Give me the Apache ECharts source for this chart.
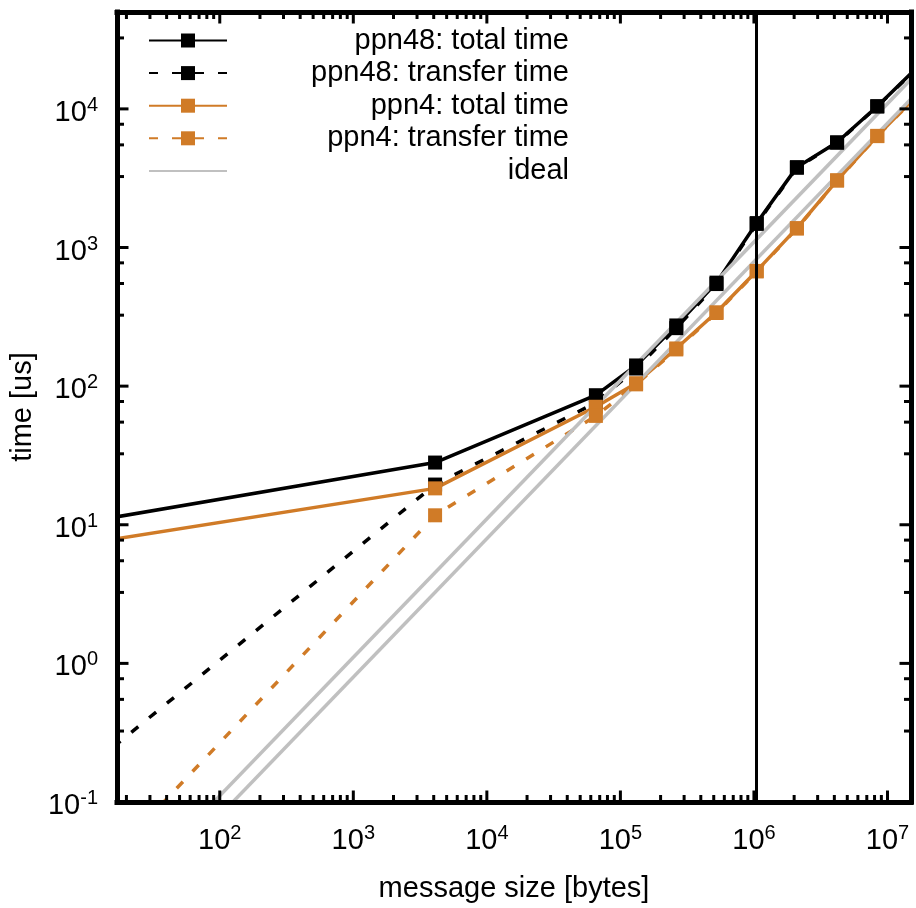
<!DOCTYPE html>
<html><head><meta charset="utf-8">
<script src="https://cdn.jsdelivr.net/npm/echarts@6/dist/echarts.min.js"></script>
<style>html,body{margin:0;padding:0;background:#fff}#c{width:916px;height:908px}</style>
</head><body><div id="c"></div>
<script>
// ---- data ----
const sizes = [16, 4096, 65536, 131072, 262144, 524288, 1048576, 2097152, 4194304, 8388608, 16777216];
const ppn48Total    = [11.3, 28.1, 86, 141, 274, 558, 1500, 3800, 5740, 10460, 20000];
const ppn48Transfer = [0.25, 19.5, 76, 134, 262, 545, 1480, 3760, 5700, 10400, 19800];
const ppn4Total     = [7.85, 18.3, 71, 105, 187, 341, 678, 1380, 3055, 6390, 12600];
const ppn4Transfer  = [0.0414, 11.7, 61, 103, 184, 337, 672, 1370, 3040, 6360, 12500];
const idealA = [[16, 0.0178], [16777216, 18300]];
const idealB = [[16, 0.0128], [16777216, 13200]];
const seriesNames = ['ppn48: total time', 'ppn48: transfer time', 'ppn4: total time', 'ppn4: transfer time', 'ideal'];
const markerSize = 1048576;
const xMin = 17, xMax = 1.5e7, yMin = 0.1, yMax = 5e4;
const xMajorTicks = [100, 1e3, 1e4, 1e5, 1e6, 1e7];
const yMajorTicks = [0.1, 1, 10, 100, 1e3, 1e4];
const xMinorSteps = [2, 3, 4, 5, 6, 7, 8, 9];
const yMinorSteps = [3.25, 5.5, 7.75];
const xDecades = [10, 100, 1e3, 1e4, 1e5, 1e6, 1e7];
const yDecades = [0.1, 1, 10, 100, 1e3, 1e4];

// ---- styles ----
const FONT = '"Liberation Sans", Arial, sans-serif';
const BLACK = '#000000', ORANGE = '#d07b27', GRAY = '#c0c0c0';
const LW = 3.5;

function minorList(decades, steps, lo, hi) {
  const out = [];
  decades.forEach(d => steps.forEach(m => { const v = d * m; if (v > lo && v < hi) out.push(v); }));
  return out;
}
const xMinorTicks = minorList(xDecades, xMinorSteps, xMin, xMax);
const yMinorTicks = minorList(yDecades, yMinorSteps, yMin, yMax);

function pairs(ys) {
  return sizes.map((s, i) => (s < xMin ? { value: [s, ys[i]], symbol: 'none' } : [s, ys[i]]));
}

function powLabel(v) {
  const e = Math.log10(v);
  const r = Math.round(e);
  if (Math.abs(e - r) > 1e-6) return '';
  return '{n|10}{s|' + r + '}';
}
const richLabel = {
  n: { fontFamily: FONT, fontSize: 29, color: BLACK, lineHeight: 32, verticalAlign: 'bottom' },
  s: { fontFamily: FONT, fontSize: 20, color: BLACK, lineHeight: 20, verticalAlign: 'top' }
};

const axisCommon = {
  type: 'log', logBase: 10,
  axisLine: { show: true, onZero: false, lineStyle: { color: BLACK, width: 5, cap: 'square' } },
  axisTick: { show: false }, minorTick: { show: false },
  splitLine: { show: false }, minorSplitLine: { show: false },
  z: 10
};

function lineSeries(name, ys, color, dashed) {
  return {
    name, type: 'line', data: pairs(ys),
    symbol: 'rect', symbolSize: 14, showAllSymbol: true, clip: true,
    lineStyle: { color, width: LW, type: dashed ? [9, 14] : 'solid' },
    itemStyle: { color },
    emphasis: { disabled: true }, silent: true
  };
}

const TICK_MAJOR = 11.5, TICK_MINOR = 7;
const xTickData = xMajorTicks.map(v => [v, yMin, 1]).concat(xMinorTicks.map(v => [v, yMin, 0]));
const yTickData = yMajorTicks.map(v => [xMin, v, 1]).concat(yMinorTicks.map(v => [xMin, v, 0]));

const series = [
  Object.assign(lineSeries(seriesNames[0], ppn48Total, BLACK, false), {
    markLine: {
      silent: true, symbol: ['none', 'none'], label: { show: false },
      lineStyle: { color: BLACK, width: 3, type: 'solid' },
      data: [{ xAxis: markerSize }]
    }
  }),
  lineSeries(seriesNames[1], ppn48Transfer, BLACK, true),
  lineSeries(seriesNames[2], ppn4Total, ORANGE, false),
  lineSeries(seriesNames[3], ppn4Transfer, ORANGE, true),
  { name: 'ideal', type: 'line', data: idealA, showSymbol: false, symbol: 'rect', clip: true,
    lineStyle: { color: GRAY, width: LW }, itemStyle: { color: GRAY }, emphasis: { disabled: true }, silent: true },
  { name: 'ideal', type: 'line', data: idealB, showSymbol: false, symbol: 'rect', clip: true,
    lineStyle: { color: GRAY, width: LW }, itemStyle: { color: GRAY }, emphasis: { disabled: true }, silent: true },
  { type: 'custom', name: 'xticks', silent: true, clip: false, z: 10, data: xTickData,
    renderItem(params, api) {
      const p = api.coord([api.value(0), api.value(1)]);
      const cs = params.coordSys;
      const len = api.value(2) ? TICK_MAJOR : TICK_MINOR;
      const st = { stroke: BLACK, lineWidth: 3 };
      return { type: 'group', children: [
        { type: 'line', shape: { x1: p[0], y1: cs.y + cs.height, x2: p[0], y2: cs.y + cs.height - len }, style: st },
        { type: 'line', shape: { x1: p[0], y1: cs.y, x2: p[0], y2: cs.y + len }, style: st }
      ] };
    } },
  { type: 'custom', name: 'yticks', silent: true, clip: false, z: 10, data: yTickData,
    renderItem(params, api) {
      const p = api.coord([api.value(0), api.value(1)]);
      const cs = params.coordSys;
      const len = api.value(2) ? TICK_MAJOR : TICK_MINOR;
      const st = { stroke: BLACK, lineWidth: 3 };
      return { type: 'group', children: [
        { type: 'line', shape: { x1: cs.x, y1: p[1], x2: cs.x + len, y2: p[1] }, style: st },
        { type: 'line', shape: { x1: cs.x + cs.width, y1: p[1], x2: cs.x + cs.width - len, y2: p[1] }, style: st }
      ] };
    } }
];

const chart = echarts.init(document.getElementById('c'), null, { renderer: 'canvas' });
chart.setOption({
  animation: false,
  backgroundColor: '#ffffff',
  grid: { left: 117, right: 5, top: 12, bottom: 98, containLabel: false },
  legend: {
    orient: 'vertical', left: 143, top: 21,
    itemWidth: 78, itemHeight: 17.5, itemGap: 3.6,
    selectedMode: false,
    data: seriesNames.map(n => (n === 'ideal' ? { name: n, itemStyle: { opacity: 0 } } : n)),
    formatter: n => '{a|' + n + '}',
    textStyle: {
      fontFamily: FONT, fontSize: 29, color: BLACK,
      rich: { a: { width: 337, align: 'right', fontFamily: FONT, fontSize: 29, color: BLACK, lineHeight: 29 } }
    }
  },
  xAxis: [
    Object.assign({}, axisCommon, {
      min: xMin, max: xMax, position: 'bottom',
      name: 'message size [bytes]', nameLocation: 'middle', nameGap: 72,
      nameTextStyle: { fontFamily: FONT, fontSize: 29, color: BLACK },
      axisLabel: { formatter: powLabel, margin: 21, rich: richLabel, color: BLACK, hideOverlap: false, showMinLabel: true, showMaxLabel: true }
    }),
    Object.assign({}, axisCommon, { min: xMin, max: xMax, position: 'top', axisLabel: { show: false } })
  ],
  yAxis: [
    Object.assign({}, axisCommon, {
      min: yMin, max: yMax, position: 'left',
      name: 'time [us]', nameLocation: 'middle', nameGap: 77, nameRotate: 90,
      nameTextStyle: { fontFamily: FONT, fontSize: 29, color: BLACK },
      axisLabel: { formatter: powLabel, margin: 19, padding: [5, 0, 0, 0], rich: richLabel, color: BLACK, hideOverlap: false, showMinLabel: true, showMaxLabel: true }
    }),
    Object.assign({}, axisCommon, { min: yMin, max: yMax, position: 'right', axisLabel: { show: false } })
  ],
  series
});
</script>
</body></html>
